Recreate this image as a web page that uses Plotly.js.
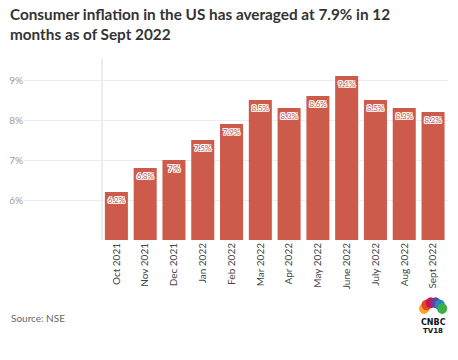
<!DOCTYPE html>
<html>
<head>
<meta charset="utf-8">
<script src="https://cdn.plot.ly/plotly-3.0.1.min.js"></script>
<style>html,body{margin:0;padding:0;background:#fff;}#chart{width:458px;height:360px;}</style>
</head>
<body>
<div id="chart"></div>
<script>
var months = ['Oct 2021','Nov 2021','Dec 2021','Jan 2022','Feb 2022','Mar 2022','Apr 2022','May 2022','June 2022','July 2022','Aug 2022','Sept 2022'];
var inflation = [6.2, 6.8, 7.0, 7.5, 7.9, 8.5, 8.3, 8.6, 9.1, 8.5, 8.3, 8.2];
var labels = ['6.2%','6.8%','7%','7.5%','7.9%','8.5%','8.3%','8.6%','9.1%','8.5%','8.3%','8.2%'];
var yTicks = [6, 7, 8, 9];
var yTickText = ['6%', '7%', '8%', '9%'];

var barColor = '#cc5b4b';
var halo = '1px 0 0 #fff, -1px 0 0 #fff, 0 1px 0 #fff, 0 -1px 0 #fff, 1px 1px 0 #fff, -1px -1px 0 #fff, 1px -1px 0 #fff, -1px 1px 0 #fff';

var trace = {
  type: 'bar',
  x: months,
  y: inflation,
  text: labels,
  textposition: 'inside',
  insidetextanchor: 'end',
  textangle: 0,
  textfont: {family: 'Lato, sans-serif', size: 9, color: barColor, shadow: halo},
  marker: {color: barColor},
  hoverinfo: 'none',
  cliponaxis: false
};

var layout = {
  width: 458, height: 360,
  paper_bgcolor: '#fff', plot_bgcolor: '#fff',
  margin: {l: 24, r: 10, t: 59, b: 120},
  showlegend: false,
  bargap: 0.2,
  font: {family: 'Lato, sans-serif'},
  xaxis: {
    type: 'category',
    range: [-3.21, 11.52],
    tickangle: -90,
    tickfont: {size: 10, color: '#444'},
    showgrid: false, zeroline: false, showline: false,
    ticks: '', fixedrange: true
  },
  yaxis: {
    range: [5, 9.525],
    tickvals: yTicks,
    ticktext: yTickText,
    tickfont: {size: 10, color: '#9a9a9a'},
    showgrid: true, gridcolor: '#ececec', gridwidth: 1,
    zeroline: false, showline: false, ticks: '',
    fixedrange: true
  },
  shapes: [
    {type: 'line', xref: 'x', yref: 'paper', x0: -0.5, x1: -0.5, y0: 0, y1: 1,
     line: {color: '#e6e6e6', width: 1.5}, layer: 'below'}
  ],
  annotations: [
    {text: '<b>Consumer inflation in the US has averaged at 7.9% in 12<br>months as of Sept 2022</b>',
     xref: 'paper', yref: 'paper', x: -0.038, y: 1.31, xanchor: 'left', yanchor: 'top',
     align: 'left', showarrow: false,
     font: {family: 'Lato, sans-serif', size: 15.3, color: '#333'}},
    {text: 'Source: NSE', xref: 'paper', yref: 'paper', x: -0.035, y: -0.43,
     xanchor: 'left', yanchor: 'middle', showarrow: false,
     font: {family: 'Lato, sans-serif', size: 10, color: '#666'}},
    {text: '<b>CNBC</b>', xref: 'paper', yref: 'paper', x: 0.965, y: -0.455,
     xanchor: 'center', yanchor: 'middle', showarrow: false,
     font: {family: 'DejaVu Sans, sans-serif', size: 8, color: '#111'}},
    {text: '<b>TV18</b>', xref: 'paper', yref: 'paper', x: 0.965, y: -0.5,
     xanchor: 'center', yanchor: 'middle', showarrow: false,
     font: {family: 'DejaVu Sans, sans-serif', size: 7, color: '#111'}}
  ]
};

var peacock = ['#f5a623','#e8432e','#c5164e','#6b3f98','#1e88c9','#3fae49'];
var cx = 0.965, cy = -0.39;
var angles = [-75, -45, -15, 15, 45, 75];
for (var i = 0; i < angles.length; i++) {
  var a = angles[i] * Math.PI / 180;
  var dx = Math.sin(a) * 0.022, dy = Math.cos(a) * 0.045;
  layout.shapes.push({type: 'circle', xref: 'paper', yref: 'paper',
    x0: cx + dx - 0.012, x1: cx + dx + 0.012, y0: cy + dy - 0.03, y1: cy + dy + 0.03,
    fillcolor: peacock[i], line: {width: 0}});
}

Plotly.newPlot('chart', [trace], layout, {displayModeBar: false, staticPlot: true});
</script>
</body>
</html>
